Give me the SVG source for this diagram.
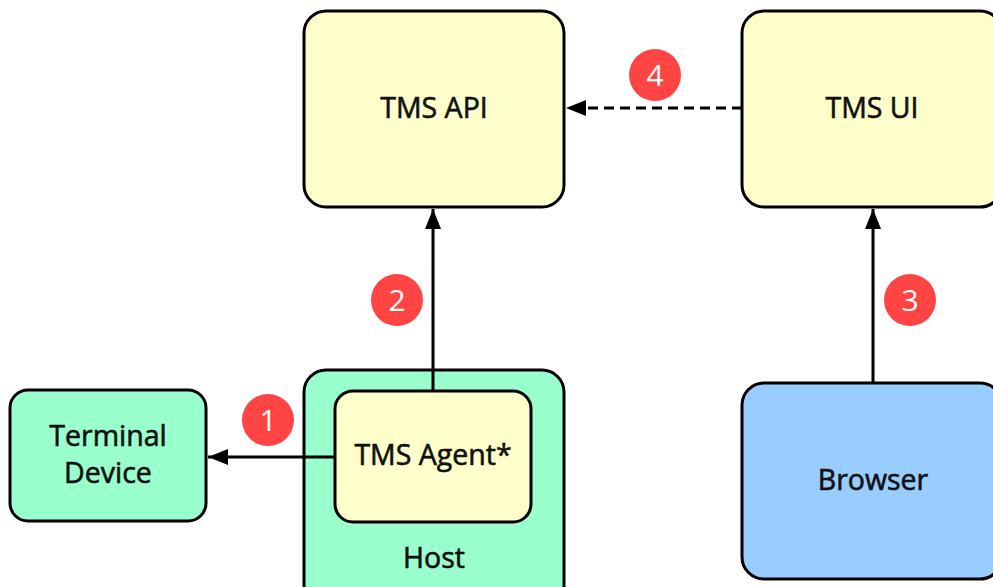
<svg xmlns="http://www.w3.org/2000/svg" width="993" height="587" viewBox="0 0 993 587">
  <style>
    .box { stroke: #000; stroke-width: 3; }
    .yellow { fill: #FFFFCC; }
    .green { fill: #99FFCC; }
    .blue { fill: #99CCFF; }
    .label { font-family: "Open Sans", "Noto Sans", sans-serif; font-size: 28.5px; fill: #111; stroke: #111; stroke-width: 0.6; text-anchor: middle; }
    .edge { stroke: #000; stroke-width: 3; fill: none; }
    .dashed { stroke-dasharray: 10 6; }
    .badge circle { fill: #FF4444; }
    .badge text { font-family: "Open Sans", "Noto Sans", sans-serif; font-size: 30px; fill: #fff; text-anchor: middle; }
  </style>
  <defs>
    <marker id="arrowhead" viewBox="0 0 20 16" refX="20" refY="8" markerWidth="20" markerHeight="16" markerUnits="userSpaceOnUse" orient="auto">
      <path d="M0,0 L20,8 L0,16 Z" fill="#000"/>
    </marker>
  </defs>

  <rect width="993" height="587" fill="#fff"/>

  <g id="tms-api">
    <rect class="box yellow" x="304" y="11" width="260" height="196" rx="22"/>
    <text class="label" x="434" y="118">TMS API</text>
  </g>

  <g id="tms-ui">
    <rect class="box yellow" x="742" y="11" width="260" height="196" rx="22"/>
    <text class="label" x="872" y="118">TMS UI</text>
  </g>

  <g id="host">
    <rect class="box green" x="304" y="370" width="260" height="240" rx="22"/>
    <text class="label" x="434" y="568">Host</text>
  </g>

  <g id="tms-agent">
    <rect class="box yellow" x="335" y="391" width="196" height="131" rx="18"/>
    <text class="label" x="433" y="465">TMS Agent*</text>
  </g>

  <g id="terminal-device">
    <rect class="box green" x="10" y="390" width="196" height="131" rx="18"/>
    <text class="label" x="108" y="446">Terminal</text>
    <text class="label" x="108" y="483">Device</text>
  </g>

  <g id="browser">
    <rect class="box blue" x="742" y="383" width="260" height="196" rx="22"/>
    <text class="label" x="873" y="490">Browser</text>
  </g>

  <g id="connectors">
    <line class="edge" x1="335" y1="457" x2="208" y2="457" marker-end="url(#arrowhead)"/>
    <line class="edge" x1="433" y1="391" x2="433" y2="209" marker-end="url(#arrowhead)"/>
    <line class="edge" x1="873" y1="383" x2="873" y2="209" marker-end="url(#arrowhead)"/>
    <line class="edge dashed" x1="742" y1="108" x2="566" y2="108" marker-end="url(#arrowhead)"/>
  </g>

  <g id="badges">
    <g class="badge"><circle cx="268" cy="420" r="26"/><text x="268" y="431">1</text></g>
    <g class="badge"><circle cx="397" cy="300" r="26"/><text x="397" y="311">2</text></g>
    <g class="badge"><circle cx="910" cy="300" r="26"/><text x="910" y="311">3</text></g>
    <g class="badge"><circle cx="655" cy="75" r="26"/><text x="655" y="86">4</text></g>
  </g>
</svg>
